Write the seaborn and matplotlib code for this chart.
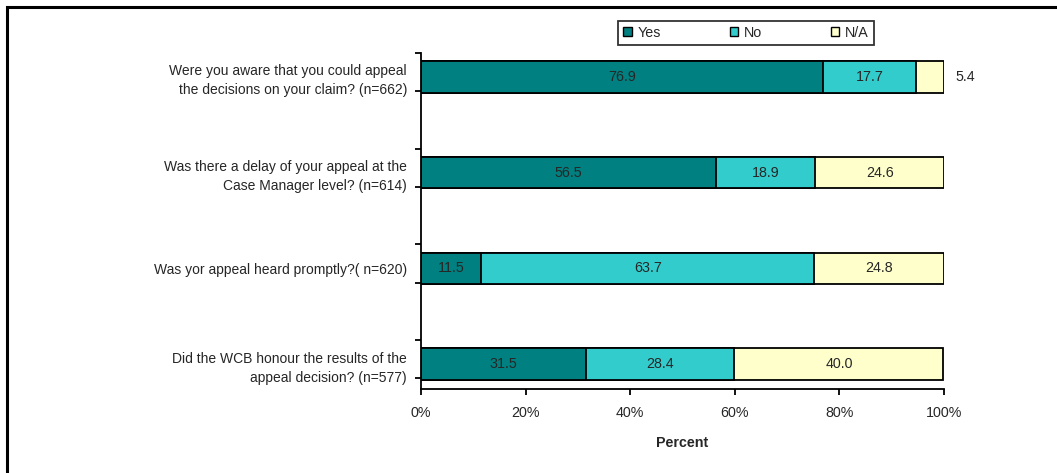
import matplotlib
matplotlib.use("Agg")
import matplotlib.pyplot as plt
import seaborn as sns
import pandas as pd
import numpy as np
from matplotlib.patches import Rectangle, Patch

questions = [
    "Were you aware that you could appeal\nthe decisions on your claim? (n=662)",
    "Was there a delay of your appeal at the\nCase Manager level? (n=614)",
    "Was yor appeal heard promptly?( n=620)",
    "Did the WCB honour the results of the\nappeal decision? (n=577)",
]
yes = [76.9, 56.5, 11.5, 31.5]
no = [17.7, 18.9, 63.7, 28.4]
na = [5.4, 24.6, 24.8, 40.0]
series_names = ["Yes", "No", "N/A"]
colors = ["#008080", "#33CCCC", "#FFFFCC"]
xticks = [0, 20, 40, 60, 80, 100]

sns.set_style("white")
plt.rcParams["font.family"] = ["Liberation Sans", "DejaVu Sans"]

df = pd.DataFrame({"q": questions, "Yes": yes, "No": no, "N/A": na})
df["c1"] = df["Yes"]
df["c2"] = df["Yes"] + df["No"]
df["c3"] = df["Yes"] + df["No"] + df["N/A"]

fig = plt.figure(figsize=(10.57, 4.73), dpi=100)
ax = fig.add_axes([421/1057, 1-389/473, 523/1057, 336/473])

bw = 0.33
for col, c in zip(["c3", "c2", "c1"], [colors[2], colors[1], colors[0]]):
    sns.barplot(data=df, x=col, y="q", order=questions, orient="h", color=c,
                width=bw, edgecolor="black", linewidth=1.3, ax=ax, saturation=1)

# value labels
for i in range(len(questions)):
    starts = [0, yes[i], yes[i] + no[i]]
    vals = [yes[i], no[i], na[i]]
    for s, v in zip(starts, vals):
        if v < 8:
            ax.text(104, i, f"{v:.1f}", ha="center", va="center", fontsize=10.3)
        else:
            ax.text(s + v / 2, i, f"{v:.1f}", ha="center", va="center", fontsize=10.3)

ax.set_xlim(0, 100)
ax.set_ylim(3.26, -0.25)
ax.set_xticks(xticks)
ax.set_xticklabels([f"{t}%" for t in xticks], fontsize=10.3)
ax.set_xlabel("Percent", fontsize=10.3, fontweight="bold", labelpad=12)
ax.set_ylabel("")
ax.tick_params(axis="y", which="major", left=True, length=0, pad=10, labelsize=10)
ax.tick_params(axis="x", which="major", bottom=True, length=4, width=1.3,
               direction="out", pad=8, color="black")
minor = []
for i in range(len(questions)):
    minor += [i - 0.25, i + 0.15]
ax.set_yticks(minor, minor=True)
ax.tick_params(axis="y", which="minor", left=True, length=4, width=1.3,
               direction="out", color="black")
for lab in ax.get_yticklabels():
    lab.set_linespacing(1.45)

sns.despine(ax=ax, top=True, right=True)
for sp in ["left", "bottom"]:
    ax.spines[sp].set_linewidth(1.3)
    ax.spines[sp].set_color("black")

handles = [Patch(facecolor=c, edgecolor="black", linewidth=1.0) for c in colors]
leg = ax.legend(handles, series_names, loc="center", bbox_to_anchor=(746/1057, 1-33/473),
                bbox_transform=fig.transFigure, ncol=3, frameon=True, fancybox=False,
                fontsize=10.3, handlelength=0.6, handleheight=0.6, handletextpad=0.4,
                columnspacing=4.8, borderpad=0.35, borderaxespad=0)
leg.get_frame().set_edgecolor("black")
leg.get_frame().set_linewidth(1.3)

fig.patches.append(Rectangle((7/1057, -0.2), 1.3, 1.2 - 7/473, transform=fig.transFigure,
                             fill=False, edgecolor="black", linewidth=2.2))

fig.savefig("out.png", dpi=100)
